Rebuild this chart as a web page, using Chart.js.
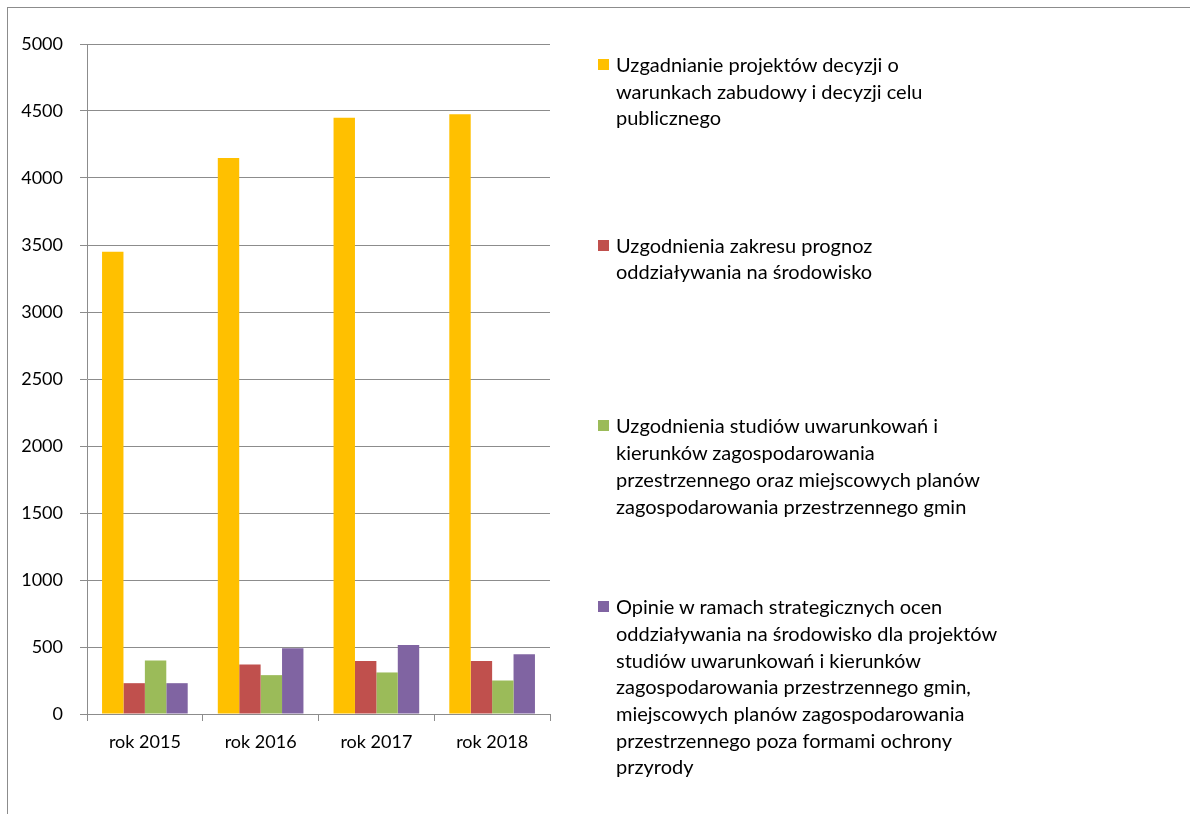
<!DOCTYPE html>
<html lang="pl">
<head>
<meta charset="utf-8">
<title>Uzgodnienia 2015-2018</title>
<script src="https://cdn.jsdelivr.net/npm/chart.js@4.4.1/dist/chart.umd.min.js"></script>
<style>
  html, body { margin: 0; padding: 0; background: #fff; overflow: hidden; }
  #wrap { position: relative; width: 1190px; height: 814px; }
  #frame {
    position: absolute; left: 7px; top: 7px; width: 1200px; height: 820px;
    border-left: 1px solid #8c8c8c; border-top: 1px solid #8c8c8c;
  }
  #chart { position: absolute; left: 0; top: 0; }
  #legend { position: absolute; left: 0; top: 0; }
  .lg-item { position: absolute; left: 598px; font-family: Lato, sans-serif; font-size: 20px; line-height: 26.7px; color: #000; }
  .lg-box { position: absolute; left: 0; top: 8px; width: 11px; height: 11px; }
  .lg-text { margin-left: 18px; white-space: nowrap; }
</style>
</head>
<body>
<div id="wrap">
  <div id="frame"></div>
  <canvas id="chart" width="1190" height="814"></canvas>
  <div id="legend"></div>
</div>
<script>
// ---- data ----
const categories = ['rok 2015', 'rok 2016', 'rok 2017', 'rok 2018'];

const uzgadnianieDecyzji = [3450, 4150, 4450, 4475];
const uzgodnieniaPrognoz = [230, 370, 395, 395];
const uzgodnieniaStudiow = [400, 290, 310, 250];
const opinieOcen = [230, 490, 515, 445];

const seriesNames = [
    ['Uzgadnianie projektów decyzji o', 'warunkach zabudowy i decyzji celu', 'publicznego'],
    ['Uzgodnienia zakresu prognoz', 'oddziaływania na środowisko'],
    ['Uzgodnienia studiów uwarunkowań i', 'kierunków zagospodarowania', 'przestrzennego oraz miejscowych planów', 'zagospodarowania przestrzennego gmin'],
    ['Opinie w ramach strategicznych ocen', 'oddziaływania na środowisko dla projektów', 'studiów uwarunkowań i kierunków', 'zagospodarowania przestrzennego gmin,', 'miejscowych planów zagospodarowania', 'przestrzennego poza formami ochrony', 'przyrody']
];
const seriesColors = ['#FFC000', '#C0504D', '#9BBB59', '#8064A2'];

const yMin = 0;
const yMax = 5000;
const yStep = 500;

// ---- chart ----
const gridColor = '#8c8c8c';
const font = { family: 'Lato, sans-serif', size: 18 };

const seriesValues = [uzgadnianieDecyzji, uzgodnieniaPrognoz, uzgodnieniaStudiow, opinieOcen];

new Chart(document.getElementById('chart'), {
    type: 'bar',
    data: {
        labels: categories,
        datasets: seriesValues.map((vals, i) => ({
            label: seriesNames[i].join(' '),
            data: vals,
            backgroundColor: seriesColors[i],
            borderWidth: 0,
            categoryPercentage: 0.74,
            barPercentage: 1.0
        }))
    },
    options: {
        responsive: false,
        animation: false,
        layout: { padding: { left: 0, right: 640, top: 44, bottom: 0 } },
        scales: {
            x: {
                grid: { offset: true, drawOnChartArea: false, drawTicks: true, tickLength: 7, color: gridColor },
                border: { display: true, color: gridColor },
                ticks: { color: '#000', font: font, padding: 10 },
                afterFit: (s) => { s.height = 100; }
            },
            y: {
                min: yMin,
                max: yMax,
                grid: { color: gridColor, tickLength: 7, drawTicks: true },
                border: { display: true, color: gridColor },
                ticks: { stepSize: yStep, color: '#000', font: font, padding: 17, callback: (v) => String(v) },
                afterFit: (s) => { s.width = 87; }
            }
        },
        plugins: {
            legend: { display: false },
            tooltip: { enabled: false }
        }
    }
});

// ---- legend (multi-line entries) ----
const legendEl = document.getElementById('legend');
seriesNames.forEach((lines, i) => {
    const item = document.createElement('div');
    item.className = 'lg-item';
    item.style.top = (51 + i * 180.7) + 'px';
    item.innerHTML = `<div class="lg-box" style="background:${seriesColors[i]}"></div>` +
        `<div class="lg-text">${lines.join('<br>')}</div>`;
    legendEl.appendChild(item);
});
</script>
</body>
</html>
